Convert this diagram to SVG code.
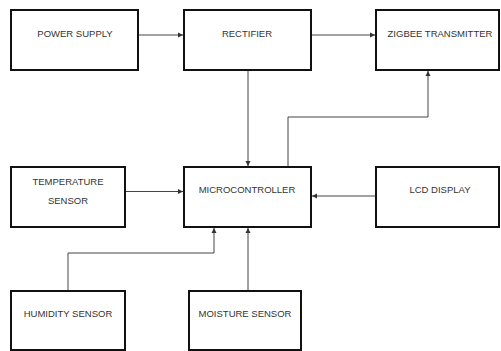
<svg xmlns="http://www.w3.org/2000/svg" width="501" height="351" viewBox="0 0 501 351">
<style>
.box{fill:#fff;stroke:#111;stroke-width:2}
.lbl{font-family:"Liberation Sans",Arial,sans-serif;font-size:9.5px;fill:#333;text-anchor:middle}
.con{fill:none;stroke:#444;stroke-width:1}
</style>
<defs>
<marker id="ah" markerWidth="6" markerHeight="6" refX="5" refY="3" orient="auto" markerUnits="userSpaceOnUse">
<path d="M0,0.5 L5,3 L0,5.5 Z" fill="#333"/>
</marker>
</defs>
<rect width="501" height="351" fill="#fff"/>
<g id="connectors">
<path class="con" d="M138,35 H183" marker-end="url(#ah)"/>
<path class="con" d="M311,35 H375" marker-end="url(#ah)"/>
<path class="con" d="M248,70 V166" marker-end="url(#ah)"/>
<path class="con" d="M288,167 V117 H428 V71" marker-end="url(#ah)"/>
<path class="con" d="M125,191.5 H183" marker-end="url(#ah)"/>
<path class="con" d="M376,196 H312" marker-end="url(#ah)"/>
<path class="con" d="M68,291 V253 H214 V228" marker-end="url(#ah)"/>
<path class="con" d="M248,291 V228" marker-end="url(#ah)"/>
</g>
<g id="power-supply">
<rect class="box" x="11" y="10" width="127" height="60"/>
<text class="lbl" x="75" y="37">POWER SUPPLY</text>
</g>
<g id="rectifier">
<rect class="box" x="184" y="10" width="127" height="60"/>
<text class="lbl" x="247" y="37">RECTIFIER</text>
</g>
<g id="zigbee-transmitter">
<rect class="box" x="376" y="10" width="123" height="60"/>
<text class="lbl" x="440" y="37">ZIGBEE TRANSMITTER</text>
</g>
<g id="temperature-sensor">
<rect class="box" x="11" y="167" width="114" height="60"/>
<text class="lbl" x="68" y="185">TEMPERATURE</text>
<text class="lbl" x="68" y="204">SENSOR</text>
</g>
<g id="microcontroller">
<rect class="box" x="184" y="167" width="127" height="60"/>
<text class="lbl" x="247" y="193">MICROCONTROLLER</text>
</g>
<g id="lcd-display">
<rect class="box" x="376" y="167" width="123" height="60"/>
<text class="lbl" x="440" y="193">LCD DISPLAY</text>
</g>
<g id="humidity-sensor">
<rect class="box" x="11" y="291" width="114" height="59"/>
<text class="lbl" x="68" y="317">HUMIDITY SENSOR</text>
</g>
<g id="moisture-sensor">
<rect class="box" x="189" y="291" width="112" height="59"/>
<text class="lbl" x="245" y="317">MOISTURE SENSOR</text>
</g>
</svg>
